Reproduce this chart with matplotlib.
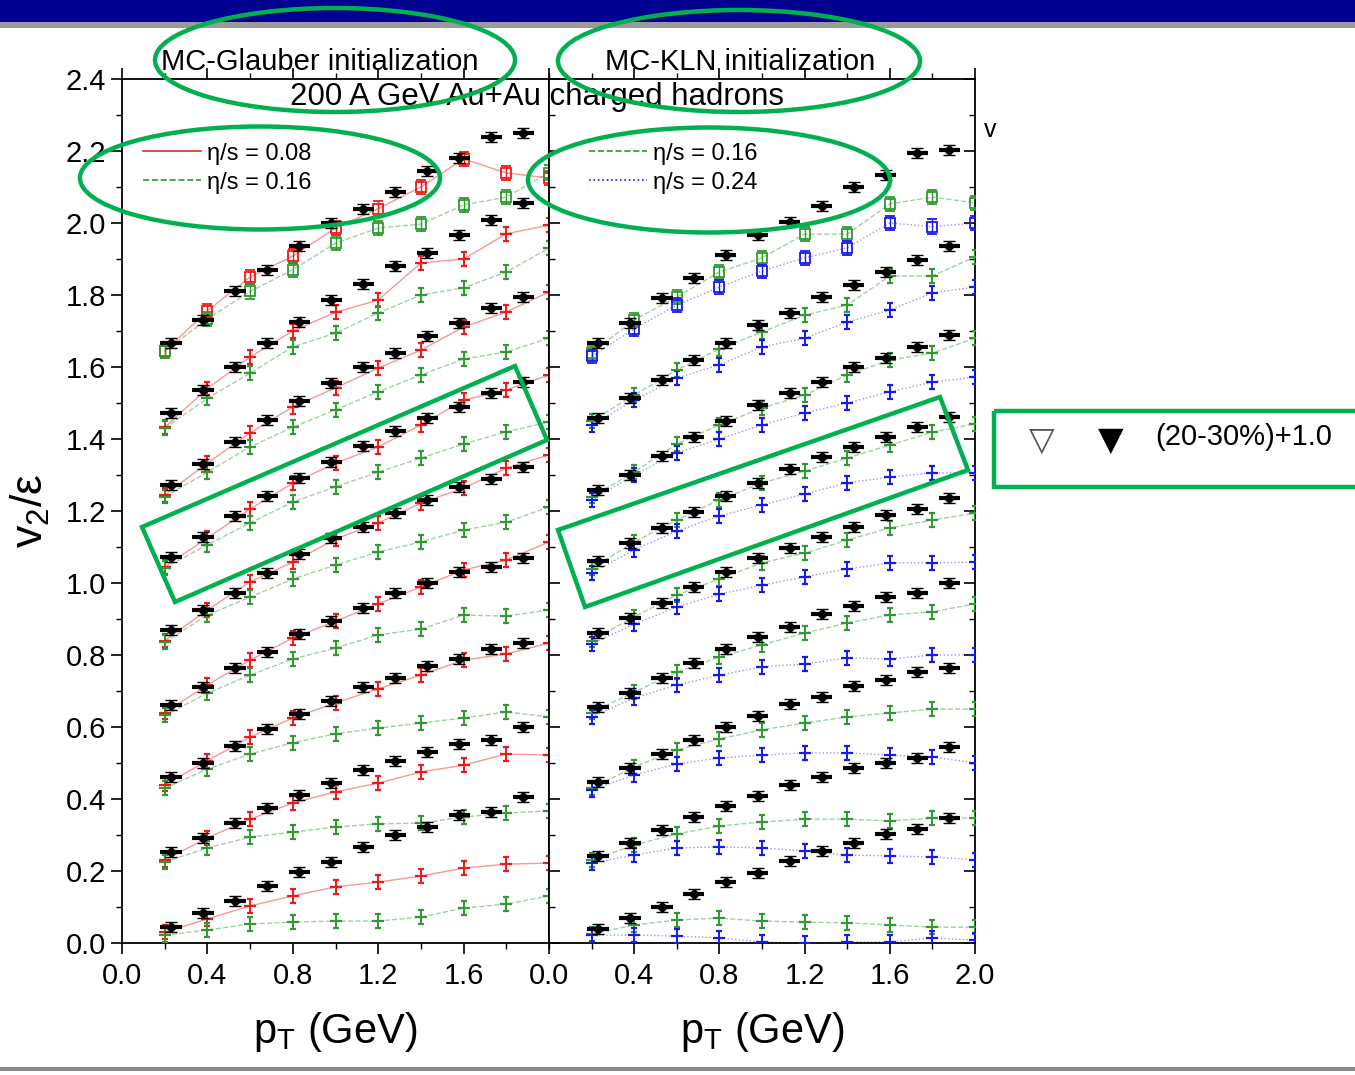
import matplotlib.pyplot as plt
from matplotlib.patches import Ellipse, Polygon, Rectangle
from matplotlib.ticker import MultipleLocator

plt.rcParams['font.family'] = ['Liberation Sans', 'DejaVu Sans']

# pT grids (GeV)
pt_theory = [0.2, 0.4, 0.6, 0.8, 1.0, 1.2, 1.4, 1.6, 1.8, 2.0]
pt_data = [0.23, 0.38, 0.53, 0.68, 0.83, 0.98, 1.13, 1.28, 1.43, 1.58, 1.73, 1.88]

# v2/eps per centrality bin, as plotted (bins shifted by +0.2 each, bottom = 0)
glauber_eta008 = [
    [0.03, 0.067, 0.103, 0.131, 0.156, 0.169, 0.186, 0.208, 0.219, 0.222],
    [0.23, 0.292, 0.344, 0.389, 0.42, 0.444, 0.475, 0.494, 0.525, 0.522],
    [0.44, 0.506, 0.572, 0.625, 0.667, 0.706, 0.744, 0.786, 0.803, 0.833],
    [0.64, 0.717, 0.786, 0.847, 0.894, 0.942, 0.989, 1.036, 1.064, 1.114],
    [0.84, 0.925, 1.003, 1.058, 1.122, 1.167, 1.222, 1.264, 1.319, 1.356],
    [1.045, 1.125, 1.206, 1.277, 1.333, 1.378, 1.439, 1.508, 1.536, 1.578],
    [1.244, 1.333, 1.417, 1.489, 1.542, 1.597, 1.647, 1.711, 1.753, 1.808],
    [1.433, 1.54, 1.628, 1.70, 1.752, 1.786, 1.889, 1.90, 1.97, 1.994],
    [1.644, 1.756, 1.85, 1.908, 1.986, 2.04, 2.10, 2.178, 2.139, 2.125],
]
glauber_eta016 = [
    [0.022, 0.036, 0.053, 0.058, 0.061, 0.061, 0.072, 0.097, 0.108, 0.131],
    [0.225, 0.264, 0.294, 0.308, 0.322, 0.331, 0.333, 0.35, 0.361, 0.367],
    [0.43, 0.483, 0.525, 0.556, 0.581, 0.597, 0.611, 0.625, 0.642, 0.628],
    [0.633, 0.694, 0.744, 0.789, 0.819, 0.856, 0.872, 0.911, 0.908, 0.925],
    [0.836, 0.911, 0.961, 1.011, 1.05, 1.086, 1.114, 1.147, 1.169, 1.211],
    [1.042, 1.106, 1.167, 1.225, 1.267, 1.308, 1.347, 1.386, 1.42, 1.447],
    [1.24, 1.308, 1.378, 1.433, 1.481, 1.531, 1.578, 1.622, 1.642, 1.68],
    [1.43, 1.513, 1.583, 1.656, 1.694, 1.75, 1.80, 1.82, 1.864, 1.93],
    [1.644, 1.733, 1.81, 1.87, 1.944, 1.986, 1.997, 2.05, 2.072, 2.14],
]
glauber_data = [
    [0.044, 0.083, 0.117, 0.158, 0.197, 0.225, 0.267, 0.30, 0.322, 0.356, 0.364, 0.406],
    [0.253, 0.292, 0.333, 0.375, 0.411, 0.444, 0.481, 0.506, 0.531, 0.553, 0.564, 0.60],
    [0.461, 0.50, 0.547, 0.594, 0.636, 0.672, 0.711, 0.736, 0.769, 0.789, 0.817, 0.833],
    [0.661, 0.711, 0.764, 0.808, 0.858, 0.894, 0.93, 0.972, 1.0, 1.031, 1.044, 1.069],
    [0.869, 0.925, 0.972, 1.028, 1.081, 1.125, 1.156, 1.194, 1.23, 1.267, 1.289, 1.322],
    [1.072, 1.128, 1.186, 1.242, 1.292, 1.336, 1.38, 1.422, 1.458, 1.489, 1.528, 1.558],
    [1.272, 1.33, 1.392, 1.453, 1.506, 1.556, 1.60, 1.64, 1.686, 1.722, 1.764, 1.794],
    [1.472, 1.536, 1.60, 1.667, 1.725, 1.786, 1.83, 1.88, 1.917, 1.967, 2.008, 2.055],
    [1.667, 1.73, 1.81, 1.87, 1.935, 2.0, 2.04, 2.087, 2.144, 2.18, 2.24, 2.25],
]
kln_eta016 = [
    [0.025, 0.05, 0.064, 0.069, 0.061, 0.058, 0.056, 0.05, 0.044, 0.044],
    [0.23, 0.272, 0.303, 0.325, 0.336, 0.344, 0.344, 0.339, 0.347, 0.347],
    [0.43, 0.489, 0.536, 0.567, 0.592, 0.611, 0.628, 0.639, 0.65, 0.65],
    [0.64, 0.697, 0.753, 0.794, 0.828, 0.861, 0.889, 0.911, 0.92, 0.942],
    [0.84, 0.906, 0.967, 1.011, 1.056, 1.083, 1.119, 1.153, 1.175, 1.194],
    [1.04, 1.114, 1.175, 1.231, 1.278, 1.311, 1.347, 1.383, 1.419, 1.442],
    [1.24, 1.308, 1.386, 1.439, 1.486, 1.522, 1.578, 1.619, 1.639, 1.68],
    [1.45, 1.522, 1.592, 1.65, 1.697, 1.744, 1.772, 1.853, 1.853, 1.906],
    [1.639, 1.731, 1.794, 1.864, 1.903, 1.969, 1.969, 2.053, 2.072, 2.056],
]
kln_eta024 = [
    [0.022, 0.022, 0.019, 0.014, 0.003, 0.0, 0.003, 0.003, 0.014, 0.008],
    [0.222, 0.244, 0.264, 0.267, 0.264, 0.256, 0.244, 0.242, 0.239, 0.231],
    [0.425, 0.467, 0.497, 0.514, 0.522, 0.528, 0.528, 0.522, 0.517, 0.50],
    [0.628, 0.681, 0.717, 0.744, 0.767, 0.775, 0.792, 0.789, 0.80, 0.80],
    [0.831, 0.886, 0.933, 0.969, 0.994, 1.017, 1.039, 1.056, 1.056, 1.058],
    [1.028, 1.092, 1.144, 1.186, 1.217, 1.247, 1.278, 1.294, 1.306, 1.306],
    [1.231, 1.30, 1.361, 1.40, 1.439, 1.472, 1.50, 1.531, 1.558, 1.572],
    [1.439, 1.508, 1.569, 1.606, 1.656, 1.68, 1.725, 1.758, 1.806, 1.822],
    [1.63, 1.706, 1.772, 1.822, 1.867, 1.903, 1.931, 2.0, 1.99, 2.0],
]
kln_data = [
    [0.039, 0.069, 0.10, 0.136, 0.169, 0.194, 0.228, 0.256, 0.278, 0.303, 0.317, 0.347],
    [0.242, 0.278, 0.314, 0.35, 0.381, 0.408, 0.439, 0.461, 0.486, 0.50, 0.514, 0.544],
    [0.447, 0.486, 0.525, 0.564, 0.60, 0.631, 0.664, 0.683, 0.714, 0.731, 0.753, 0.764],
    [0.656, 0.694, 0.736, 0.778, 0.817, 0.85, 0.878, 0.914, 0.936, 0.961, 0.972, 1.0],
    [0.861, 0.903, 0.944, 0.989, 1.031, 1.069, 1.097, 1.128, 1.156, 1.189, 1.206, 1.236],
    [1.061, 1.11, 1.153, 1.197, 1.242, 1.278, 1.317, 1.35, 1.378, 1.406, 1.433, 1.461],
    [1.258, 1.30, 1.353, 1.406, 1.45, 1.494, 1.528, 1.558, 1.60, 1.625, 1.655, 1.69],
    [1.458, 1.515, 1.564, 1.619, 1.667, 1.717, 1.75, 1.794, 1.828, 1.864, 1.897, 1.936],
    [1.667, 1.722, 1.792, 1.847, 1.911, 1.967, 2.003, 2.047, 2.10, 2.133, 2.194, 2.203],
]

RED, GREEN, BLUE = '#f01818', '#2f9a2f', '#1818f0'


def draw_theory(ax, curves, color, ls):
    for i, y in enumerate(curves):
        top = i == len(curves) - 1
        ax.plot(pt_theory, y, ls=ls, color=color, lw=1.0, alpha=0.45, zorder=2)
        if top:
            ax.errorbar(pt_theory, y, yerr=0.02, fmt='s', ms=6.5, mfc='none',
                        mec=color, mew=1.3, ecolor=color, elinewidth=1.0,
                        capsize=3.5, zorder=3)
        else:
            ax.errorbar(pt_theory, y, yerr=0.019, fmt='_', ms=9, mew=1.6,
                        color=color, elinewidth=1.4, capsize=2.5, zorder=3)


def draw_data(ax, curves):
    for y in curves:
        ax.errorbar(pt_data, y, xerr=0.05, fmt='none', ecolor='black',
                    elinewidth=3.0, zorder=4)
        ax.errorbar(pt_data, y, yerr=0.014, fmt='D', ms=5, color='black',
                    elinewidth=1.6, capsize=4, zorder=4)


fig = plt.figure(figsize=(13.55, 10.75), dpi=100)
ax1 = fig.add_axes([122 / 1355, 132 / 1075, 427 / 1355, 864 / 1075])
ax2 = fig.add_axes([549 / 1355, 132 / 1075, 426 / 1355, 864 / 1075])

draw_theory(ax1, glauber_eta008, RED, '-')
draw_theory(ax1, glauber_eta016, GREEN, '--')
draw_data(ax1, glauber_data)
draw_theory(ax2, kln_eta016, GREEN, '--')
draw_theory(ax2, kln_eta024, BLUE, ':')
draw_data(ax2, kln_data)

for ax in (ax1, ax2):
    ax.set_xlim(0, 2.0)
    ax.set_ylim(0, 2.4)
    ax.xaxis.set_major_locator(MultipleLocator(0.4))
    ax.xaxis.set_minor_locator(MultipleLocator(0.2))
    ax.yaxis.set_major_locator(MultipleLocator(0.2))
    ax.yaxis.set_minor_locator(MultipleLocator(0.1))
    for s in ax.spines.values():
        s.set_linewidth(1.3)
    ax.tick_params(axis='x', which='both', direction='out', top=True,
                   labelsize=21, pad=6)
    ax.tick_params(axis='x', which='major', length=8, width=1.2)
    ax.tick_params(axis='x', which='minor', length=4, width=1.0)
    ax.tick_params(axis='y', which='major', length=8, width=1.2, labelsize=21)
    ax.tick_params(axis='y', which='minor', length=4, width=1.0)
    ax.set_xlabel('p$_\\mathregular{T}$ (GeV)', fontsize=30, labelpad=14)

ax1.tick_params(axis='y', which='both', direction='out', right=True)
ax1.set_xticks([0.0, 0.4, 0.8, 1.2, 1.6])
ax1.set_xticklabels(['0.0', '0.4', '0.8', '1.2', '1.6'])
ax1.set_ylabel('v$_\\mathregular{2}$/ε', fontsize=32, labelpad=10)
ax1.set_yticklabels([f'{v:.1f}' for v in ax1.get_yticks()])
ax2.tick_params(axis='y', which='both', direction='in', left=True, right=True,
                labelleft=False)
ax2.set_xticklabels([f'{v:.1f}' for v in ax2.get_xticks()])

# legends
leg_kw = dict(loc='upper left', frameon=False, fontsize=17, handlelength=2.45,
              handletextpad=0.25, labelspacing=0.3)
ax1.plot([], [], color='#d03030', lw=1.2, label='η/s = 0.08')
ax1.plot([], [], color=GREEN, lw=1.2, ls='--', label='η/s = 0.16')
ax1.legend(bbox_to_anchor=(0.0, 0.951), **leg_kw)
ax2.plot([], [], color=GREEN, lw=1.2, ls='--', label='η/s = 0.16')
ax2.plot([], [], color=BLUE, lw=1.2, ls=':', label='η/s = 0.24')
ax2.legend(bbox_to_anchor=(0.044, 0.951), **leg_kw)

# texts
fig.text(320 / 1355, 1 - 62 / 1075, 'MC-Glauber initialization', ha='center',
         va='center', fontsize=21)
fig.text(740 / 1355, 1 - 62 / 1075, 'MC-KLN initialization', ha='center',
         va='center', fontsize=21)
fig.text(537 / 1355, 1 - 97 / 1075, '200 A GeV Au+Au charged hadrons',
         ha='center', va='center', fontsize=22.5)
fig.text(984 / 1355, 1 - 130 / 1075, 'v', ha='left', va='center', fontsize=18)
fig.text(1042 / 1355, 1 - 440 / 1075, '▽', ha='center', va='center',
         fontsize=24, family=['DejaVu Sans'], color='#555555')
fig.text(1111 / 1355, 1 - 440 / 1075, '▼', ha='center', va='center',
         fontsize=24, family=['DejaVu Sans'])
fig.text(1155 / 1355, 1 - 437 / 1075, '(20-30%)+1.0', ha='left', va='center',
         fontsize=21)

# slide decoration and green highlight marks in pixel space
ov = fig.add_axes([0, 0, 1, 1], zorder=10)
ov.set_xlim(0, 1355)
ov.set_ylim(1075, 0)
ov.axis('off')
ov.patch.set_alpha(0)
ov.add_patch(Rectangle((0, 0), 1355, 22, color='#000090', lw=0))
ov.add_patch(Rectangle((0, 22), 1355, 6, color='#9a9a9a', lw=0))
ov.add_patch(Rectangle((0, 1067), 1355, 4, color='#8a8a8a', lw=0))
hl = dict(fill=False, ec='#00b050', lw=3.2)
ov.add_patch(Ellipse((335, 60), 360, 104, **hl))
ov.add_patch(Ellipse((739, 61), 362, 102, **hl))
ov.add_patch(Ellipse((260, 178), 360, 103, **hl))
ov.add_patch(Ellipse((709, 180), 362, 105, **hl))
ov.add_patch(Polygon([(142, 527), (515, 366), (547, 440), (175, 602)], **hl))
ov.add_patch(Polygon([(558, 530), (940, 397), (968, 470), (585, 607)], **hl))
ov.add_patch(Rectangle((994, 411), 370, 76, **hl))

fig.savefig('out.png', dpi=100)
